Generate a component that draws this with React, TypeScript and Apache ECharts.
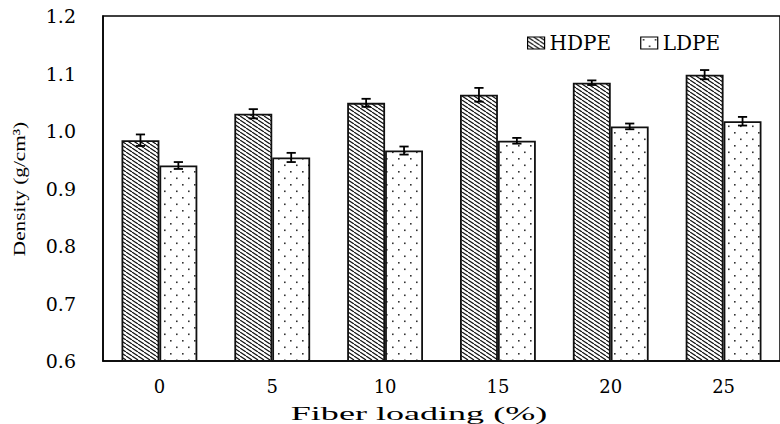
import React, { useEffect, useRef } from "react";
import * as echarts from "echarts";

const categories = ["0", "5", "10", "15", "20", "25"];
const hdpeValues = [0.984, 1.030, 1.049, 1.063, 1.084, 1.098];
const hdpeErrors = [0.010, 0.008, 0.007, 0.012, 0.004, 0.008];
const ldpeValues = [0.940, 0.954, 0.966, 0.983, 1.008, 1.017];
const ldpeErrors = [0.006, 0.008, 0.007, 0.005, 0.005, 0.0075];
const yMin = 0.6;
const yMax = 1.2;
const yStep = 0.1;
const xTitle = "Fiber loading (%)";
const yTitle = "Density (g/cm³)";

const BAR_FRACTION = 0.336;

function makeHatch(): HTMLCanvasElement {
  const c = document.createElement("canvas");
  const w = 6, h = 4;
  c.width = w; c.height = h;
  const ctx = c.getContext("2d")!;
  ctx.fillStyle = "#fff";
  ctx.fillRect(0, 0, w, h);
  ctx.strokeStyle = "#111";
  ctx.lineWidth = 1.2;
  for (let k = -1; k <= 1; k++) {
    ctx.beginPath();
    ctx.moveTo(k * w, 0);
    ctx.lineTo(k * w + w, h);
    ctx.stroke();
  }
  return c;
}

function makeDots(): HTMLCanvasElement {
  const c = document.createElement("canvas");
  const w = 12, h = 13;
  c.width = w; c.height = h;
  const ctx = c.getContext("2d")!;
  ctx.fillStyle = "#fff";
  ctx.fillRect(0, 0, w, h);
  ctx.fillStyle = "#333";
  ctx.fillRect(2, 2, 1.6, 1.6);
  ctx.fillRect(8, 8.5, 1.6, 1.6);
  return c;
}

function errorRenderer(offset: number) {
  return (params: any, api: any) => {
    const idx = api.value(0);
    const v = api.value(1);
    const e = api.value(2);
    const band = api.size([1, 0])[0];
    const cx = api.coord([idx, v])[0] + offset * band;
    const yTop = api.coord([idx, v + e])[1];
    const yBot = api.coord([idx, v - e])[1];
    const half = 4.6;
    const style = { stroke: "#000", lineWidth: 1.8 };
    return {
      type: "group",
      children: [
        { type: "line", shape: { x1: cx, y1: yTop, x2: cx, y2: yBot }, style },
        { type: "line", shape: { x1: cx - half, y1: yTop, x2: cx + half, y2: yTop }, style },
        { type: "line", shape: { x1: cx - half, y1: yBot, x2: cx + half, y2: yBot }, style },
      ],
    };
  };
}

export default function App() {
  const ref = useRef<HTMLDivElement>(null);

  useEffect(() => {
    if (!ref.current) return;
    const chart = echarts.init(ref.current, undefined, { renderer: "svg" });
    const hatch = makeHatch();
    const dots = makeDots();
    const hatchPattern: any = { image: hatch, repeat: "repeat", imageWidth: 6, imageHeight: 4 };
    const dotsPattern: any = { image: dots, repeat: "repeat", imageWidth: 12, imageHeight: 13 };

    const option: any = {
      animation: false,
      backgroundColor: "#fff",
      grid: {
        left: 103,
        top: 16,
        bottom: 63,
        right: -6,
        show: true,
        borderColor: "#000",
        borderWidth: 1.5,
        containLabel: false,
      },
      legend: {
        data: ["HDPE", "LDPE"],
        left: 522,
        top: 28,
        itemWidth: 17,
        itemHeight: 12,
        itemGap: 29,
        icon: "rect",
        itemStyle: { borderColor: "#000", borderWidth: 1.2 },
        textStyle: {
          fontFamily: "DejaVu Serif",
          fontSize: 20,
          color: "#000",
          width: 77,
        },
      },
      xAxis: {
        type: "category",
        data: categories,
        axisLine: { show: true, lineStyle: { color: "#000", width: 1.5 } },
        axisTick: { show: false },
        axisLabel: {
          color: "#000",
          fontFamily: "DejaVu Serif",
          fontSize: 18,
          margin: 16,
        },
      },
      yAxis: {
        type: "value",
        min: yMin,
        max: yMax,
        interval: yStep,
        axisLine: { show: true, lineStyle: { color: "#000", width: 1.5 } },
        axisTick: { show: false },
        splitLine: { show: false },
        axisLabel: {
          color: "#000",
          fontFamily: "DejaVu Serif",
          fontSize: 19,
          margin: 27,
          formatter: (v: number) => v.toFixed(1),
        },
      },
      graphic: [
        {
          type: "text",
          x: 419,
          y: 413,
          scaleX: 1.9,
          style: {
            text: xTitle,
            fill: "#000",
            fontFamily: "Liberation Serif",
            fontSize: 19,
            align: "center",
            verticalAlign: "middle",
          },
        },
        {
          type: "text",
          x: 19,
          y: 189,
          rotation: Math.PI / 2,
          scaleX: 1.25,
          style: {
            text: yTitle,
            fill: "#000",
            fontFamily: "Liberation Serif",
            fontSize: 17,
            align: "center",
            verticalAlign: "middle",
          },
        },
      ],
      series: [
        {
          name: "HDPE",
          type: "bar",
          data: hdpeValues,
          barWidth: BAR_FRACTION * 100 + "%",
          barGap: "0%",
          itemStyle: { color: hatchPattern, borderColor: "#111", borderWidth: 1.8 },
        },
        {
          name: "LDPE",
          type: "bar",
          data: ldpeValues,
          barWidth: BAR_FRACTION * 100 + "%",
          barGap: "0%",
          itemStyle: { color: dotsPattern, borderColor: "#111", borderWidth: 1.8 },
        },
        {
          name: "HDPE error",
          type: "custom",
          data: hdpeValues.map((v, i) => [i, v, hdpeErrors[i]]),
          encode: { x: 0, y: 1 },
          renderItem: errorRenderer(-BAR_FRACTION / 2),
          z: 5,
        },
        {
          name: "LDPE error",
          type: "custom",
          data: ldpeValues.map((v, i) => [i, v, ldpeErrors[i]]),
          encode: { x: 0, y: 1 },
          renderItem: errorRenderer(BAR_FRACTION / 2),
          z: 5,
        },
      ],
    };
    chart.setOption(option);
    return () => chart.dispose();
  }, []);

  return (
    <div
      ref={ref}
      style={{ position: "fixed", left: 0, top: 0, width: 780, height: 424, background: "#fff" }}
    />
  );
}
